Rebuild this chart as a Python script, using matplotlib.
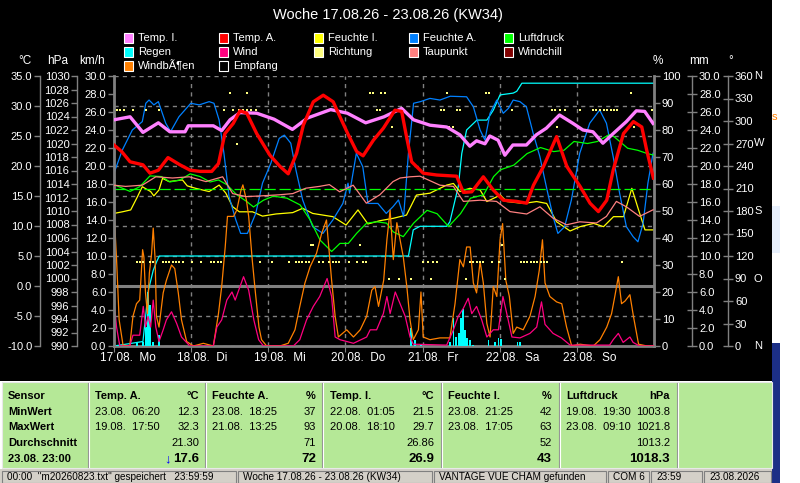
import numpy as np
import matplotlib
matplotlib.use('Agg')
import matplotlib.pyplot as plt
import matplotlib.transforms as mtransforms
from matplotlib.patches import Rectangle
from matplotlib.lines import Line2D
from matplotlib.ticker import FormatStrFormatter

plt.rcParams['font.family'] = ['Liberation Sans', 'DejaVu Sans']

# ---- data (hours since 17.08. 00:00) ----
days = ['17.08.  Mo', '18.08.  Di', '19.08.  Mi', '20.08.  Do', '21.08.  Fr', '22.08.  Sa', '23.08.  So']

temp_a_h = [0, 2.4, 5, 9, 11.2, 13.8, 16.8, 20.5, 23.7, 26.8, 30.4, 32.5, 34.5, 37.1, 39.2,
            41.3, 44.4, 48.5, 51.7, 54.2, 56.8, 58.9, 62.0, 65.1, 68.2, 70.3, 72.9, 75.5, 77.5,
            80.7, 83.8, 87.4, 89.5, 91.0, 92.6, 96.2, 100.4, 106.6, 108.7, 111.3, 114.9, 118.0,
            121.1, 125.3, 128.4, 130.5, 133.6, 137.7, 140.9, 145.0, 148.1, 150.7, 153.3, 155.3,
            158.5, 161.6, 164.2, 165.7, 167.8]
temp_a = [23.5, 22.4, 20.7, 20.2, 18.8, 19.3, 21.4, 20.2, 19.3, 19.1, 19.1, 20.4, 25.4, 27.1, 29.2,
          28.8, 25.4, 21.8, 19.9, 18.7, 22.1, 26.8, 30.7, 31.8, 30.7, 28.2, 25.2, 22.4, 21.7,
          24.3, 26.3, 29.3, 29.1, 24.9, 20.7, 18.8, 18.5, 18.3, 15.6, 15.7, 18.2, 16.0,
          14.3, 14.1, 13.8, 16.8, 19.9, 24.9, 19.9, 16.6, 13.8, 12.4, 14.3, 19.3,
          25.4, 27.4, 26.5, 22.7, 18.0]

temp_i_h = [0, 5, 9, 13.8, 17.4, 22.1, 23.1, 30.9, 33.5, 36.1, 39.2, 44.4, 49.8, 55.5, 60.2,
            67.4, 72.6, 78.3, 84.0, 89.5, 93.2, 98.3, 103.5, 107.6, 110.7, 112.8, 115.4, 116.9,
            119.5, 121.6, 124.1, 128.3, 131.4, 134.5, 138.6, 142.8, 145.9, 149.0, 152.1, 155.3,
            159.4, 162.5, 165.1, 167.7]
temp_i = [27.7, 28.2, 25.6, 27.2, 25.7, 25.7, 26.7, 26.7, 25.9, 27.7, 28.9, 28.8, 27.8, 26.1, 28.0,
          29.4, 28.8, 27.2, 28.2, 29.6, 27.7, 26.8, 26.5, 25.2, 23.3, 24.2, 23.7, 25.0,
          24.3, 21.8, 23.5, 23.5, 25.2, 26.3, 28.5, 27.1, 26.0, 25.7, 23.8, 25.4,
          27.4, 29.2, 29.1, 27.1]

hum_a_h = [0, 2.6, 5.7, 8.8, 9.9, 10.9, 12.4, 13.8, 16.1, 17.6, 20.2, 23.9, 26.5, 29.6, 31.1,
           32.7, 34.2, 35.8, 37.9, 39.4, 41.5, 44.1, 46.2, 48.8, 51.4, 53.0, 55.0, 56.6, 58.7,
           61.8, 65.0, 68.1, 71.2, 72.8, 73.3, 75.4, 77.4, 79.0, 82.1, 84.7, 86.8, 88.5, 90.1,
           91.6, 93.2, 95.3, 98.3, 101.4, 104.6, 109.7, 111.8, 113.9, 115.4, 117.0, 119.1, 121.1,
           122.7, 124.2, 126.3, 128.3, 130.4, 132.5, 134.5, 136.6, 138.1, 140.2, 142.3, 144.9,
           148.0, 151.1, 153.2, 155.3, 157.3, 159.4, 161.5, 163.0, 164.6, 166.1, 167.7]
hum_a = [64.0, 72.6, 80.0, 83.1, 89.9, 91.1, 89.3, 90.5, 82.5, 79.4, 84.9, 89.9, 89.3, 90.5, 89.9,
         83.7, 71.4, 55.3, 46.7, 41.7, 41.7, 49.1, 60.3, 67.7, 76.9, 78.1, 75.1, 65.2, 54.1,
         44.2, 41.7, 46.7, 52.8, 60.3, 56.6, 71.4, 66.4, 52.8, 52.8, 49.1, 51.6, 54.1, 47.9,
         71.4, 89.9, 90.5, 91.7, 91.1, 92.5, 92.3, 88.6, 80.0, 76.3, 86.2, 91.1, 86.2,
         88.0, 91.1, 90.5, 88.6, 78.8, 70.1, 59.0, 47.9, 41.7, 44.2, 54.1, 71.4,
         82.5, 87.4, 82.5, 70.1, 56.6, 44.2, 40.5, 38.6, 45.4, 60.3, 71.4]

hum_i_h = [0, 2.6, 5.2, 7.3, 8.8, 11.4, 12.4, 14.0, 15.1, 17.1, 21.3, 22.8, 25.4, 29.6, 32.7,
           34.8, 36.9, 39.0, 43.1, 46.2, 50.4, 55.6, 58.7, 61.8, 68.1, 72.2, 75.9, 79.0, 82.7,
           86.9, 91.0, 94.1, 98.3, 103.5, 105.6, 107.6, 110.7, 113.9, 116.0, 120.2, 122.2, 127.4,
           131.5, 134.6, 137.7, 141.9, 145.0, 149.2, 152.3, 155.4, 158.5, 161.1, 163.2, 165.2, 167.7]
hum_i = [49.1, 49.7, 50.4, 55.3, 59.0, 57.2, 55.6, 57.8, 62.1, 60.9, 61.5, 59.3, 58.4, 57.2, 59.6,
         56.6, 51.6, 49.7, 49.7, 48.1, 48.9, 49.4, 51.0, 49.1, 47.9, 44.8, 50.4, 45.2, 46.4,
         47.3, 48.5, 55.9, 56.6, 59.6, 60.2, 57.2, 58.4, 57.8, 53.5, 55.9, 53.5, 52.8,
         53.5, 52.8, 46.0, 42.6, 44.2, 45.4, 44.2, 47.9, 47.9, 58.4, 50.4, 43.0, 43.0]

press_h = [0, 5, 8, 11.2, 14.8, 17.4, 20.5, 23.7, 26.8, 29.9, 32.5, 35.1, 38.2, 41.3, 43.4,
           46.5, 49.6, 53.8, 57.9, 61.0, 64.1, 67.7, 70.3, 72.9, 75.5, 78.6, 81.7, 84.8, 86.9,
           90.0, 93.2, 97.4, 100.5, 104.1, 107.8, 110.9, 115.0, 118.1, 120.2, 124.4, 128.5,
           132.7, 136.8, 140.0, 143.1, 147.3, 150.4, 154.0, 155.6, 159.8, 162.9, 166.0, 167.7]
press = [1013.9, 1012.9, 1013.6, 1015.2, 1015.1, 1014.3, 1014.6, 1015.5, 1015.1, 1014.3, 1014.6,
         1013.9, 1012.4, 1011.4, 1010.6, 1011.6, 1012.2, 1011.9, 1010.9, 1008.7, 1005.7, 1004.0,
         1005.2, 1005.2, 1006.7, 1008.2, 1008.4, 1008.2, 1006.9, 1006.2, 1008.2, 1010.1, 1009.6,
         1007.7, 1009.6, 1011.9, 1012.4, 1015.1, 1016.1, 1016.8, 1018.5, 1019.4, 1018.8, 1019.0,
         1020.3, 1020.0, 1020.3, 1021.3, 1021.0, 1019.3, 1019.0, 1018.5, 1018.3]
press_mean = 1013.2

dew_h = [0, 3.6, 8.8, 13, 18.2, 23.4, 28.6, 33.8, 36.9, 41.1, 45.2, 51.4, 55.6, 59.7, 63.9,
         67.0, 70.2, 74.4, 78.5, 82.7, 86.8, 89.0, 92.1, 95.2, 101.4, 105.6, 108.7, 113.9,
         119.0, 123.2, 128.4, 132.5, 136.6, 140.8, 144.9, 150.1, 153.2, 156.3, 159.4, 163.5, 167.7]
dew = [16.8, 16.6, 16.8, 18.2, 18.0, 18.2, 17.4, 18.2, 15.4, 14.9, 15.0, 15.2, 15.4, 16.3, 16.6,
       16.9, 15.7, 16.8, 13.8, 15.2, 17.4, 18.0, 18.2, 18.3, 16.8, 16.6, 14.1, 14.3,
       14.1, 12.4, 12.0, 13.2, 11.3, 10.2, 10.7, 10.5, 11.6, 14.1, 13.2, 11.6, 12.7]

rain_h = [0, 5.5, 9.0, 10.7, 12.2, 13.3, 14.1, 91.6, 93.1, 95.2, 103.5, 104.5, 107.1, 108.2,
          109.7, 112.9, 116.0, 118.0, 120.1, 124.2, 125.3, 126.9, 167.8]
rain_sum = [0, 0.3, 0.5, 6.2, 8.4, 9.4, 10.0, 10.0, 12.9, 13.3, 13.3, 13.8, 17.7, 21.4,
            24.0, 25.1, 25.1, 26.2, 27.9, 28.1, 28.3, 29.2, 29.2]
rain_bar_h = [7.1, 9.0, 10.0, 10.5, 11.2, 12.2, 14.0, 92.3, 93.7, 95.4, 104.5, 105.6, 106.4,
              107.4, 107.9, 108.5, 109.2, 109.9, 110.8, 111.8, 116.5, 118.5, 119.6, 120.3,
              125.5, 126.3]
rain_bar = [0.3, 0.5, 2.1, 6.0, 4.6, 0.5, 1.2, 2.0, 0.7, 0.2, 0.5, 3.1, 1.0, 1.4, 3.1, 4.1,
            1.8, 0.9, 0.7, 0.1, 0.7, 0.5, 0.9, 0.8, 0.5, 0.5]

gust_h = [0.1, 0.8, 1.6, 2.8, 4.9, 5.9, 7.0, 8.0, 8.9, 9.3,
          9.8, 10.4, 11.0, 11.7, 12.2, 12.8, 13.2, 14.0, 15.3, 16.3,
          17.9, 18.9, 20.0, 21.0, 22.6, 24.7, 27.8, 30.9, 32.5, 33.5,
          34.6, 35.3, 37.2, 38.2, 39.5, 40.1, 41.2, 41.9, 43.0, 44.0,
          45.1, 45.9, 47.5, 51.6, 54.2, 56.3, 57.8, 59.4, 61.0, 63.0,
          64.6, 66.1, 67.7, 68.8, 69.8, 72.4, 74.5, 76.6, 78.6, 80.2,
          81.2, 82.3, 83.9, 84.9, 85.9, 86.9, 88.0, 89.0, 90.0, 91.1,
          92.1, 93.1, 94.7, 95.5, 96.2, 98.3, 101.4, 104.5, 106.1, 107.6,
          108.7, 109.7, 110.8, 111.8, 112.8, 113.9, 114.9, 116.0, 117.0, 118.0,
          119.1, 120.1, 120.9, 121.9, 123.0, 124.2, 125.3, 127.3, 129.4, 131.0,
          132.3, 133.3, 134.1, 135.6, 137.7, 139.3, 140.8, 142.4, 145.0, 149.1,
          151.2, 153.3, 154.8, 155.8, 156.9, 157.9, 159.0, 160.5, 161.6, 163.2,
          165.8, 168.0]
gust = [14.4, 9.6, 2.9, 0.1, 0.0, 3.3, 4.7, 5.1, 10.7, 9.9,
        5.9, 3.6, 8.1, 10.3, 13.1, 9.6, 3.3, 2.1, 5.9, 7.3,
        9.0, 8.6, 5.9, 2.9, 0.5, 0.0, 0.3, 0.0, 3.6, 6.6,
        11.0, 14.4, 14.4, 15.1, 17.3, 17.9, 16.2, 14.4, 9.6, 5.9,
        2.1, 0.7, 0.0, 0.0, 0.3, 1.8, 4.4, 7.0, 8.8, 10.3,
        12.5, 14.0, 7.3, 3.3, 1.0, 1.8, 1.0, 1.8, 3.3, 6.2,
        6.6, 4.4, 7.3, 11.8, 15.1, 9.6, 13.7, 11.8, 9.9, 6.6,
        2.9, 0.7, 1.8, 6.0, 1.0, 0.7, 0.9, 0.9, 4.7, 9.6,
        8.8, 11.0, 11.0, 7.0, 5.9, 9.4, 7.0, 2.5, 1.0, 6.6,
        5.5, 11.8, 13.6, 7.3, 5.5, 1.4, 2.1, 1.8, 3.3, 5.5,
        8.4, 11.8, 7.0, 5.5, 4.9, 4.7, 2.1, 0.0, 0.2, 0.0,
        0.7, 2.1, 3.6, 5.5, 7.7, 4.7, 5.0, 5.7, 3.3, 0.2,
        0.0, 0.0]

wind_h = [0.1, 0.8, 1.8, 4.9, 5.9, 8.0, 9.1, 9.8, 10.6, 11.4,
          12.2, 13.0, 14.0, 15.3, 16.3, 17.9, 19.5, 21.0, 23.6, 30.9,
          32.0, 33.5, 35.1, 36.7, 37.7, 40.3, 41.9, 43.5, 45.0, 46.5,
          55.8, 57.8, 59.9, 62.0, 64.0, 66.3, 67.7, 68.8, 70.3, 74.5,
          78.6, 79.7, 81.7, 83.8, 84.9, 85.9, 87.5, 89.0, 90.6, 92.1,
          93.1, 103.5, 105.6, 107.1, 108.7, 110.2, 111.3, 112.8, 114.4, 116.0,
          118.0, 119.6, 121.0, 122.2, 123.8, 126.3, 129.4, 131.5, 133.0, 134.1,
          136.6, 139.2, 141.9, 154.2, 155.3, 156.9, 158.4, 160.5, 161.5, 163.5,
          168.0]
wind = [4.6, 2.1, 0.0, 0.0, 1.2, 1.2, 4.4, 2.1, 3.3, 2.1,
        5.1, 2.1, 0.5, 1.8, 2.9, 3.8, 2.5, 1.0, 0.0, 0.0,
        2.1, 2.9, 5.1, 6.0, 5.1, 7.7, 6.2, 2.9, 0.7, 0.0,
        0.0, 0.7, 2.9, 4.4, 5.5, 7.5, 5.5, 1.0, 0.7, 0.3,
        1.0, 1.8, 1.8, 3.6, 5.5, 3.6, 6.0, 4.7, 3.3, 1.0,
        0.2, 0.1, 1.8, 3.3, 4.2, 5.3, 3.6, 4.4, 2.9, 1.0,
        1.8, 1.8, 5.5, 3.6, 1.0, 0.9, 1.4, 2.1, 4.9, 2.4,
        1.4, 0.9, 0.1, 0.1, 0.7, 1.4, 0.4, 1.0, 0.4, 0.0,
        0.0]

dir_sectors = [315.0, 337.5, 292.5, 270.0, 135.0, 112.5, 90.0]
dir_hours = [
    [0.8, 1.9, 3.1, 5.8, 10.1, 14.0, 34.2, 37.1, 39.0, 40.0, 41.3, 42.5, 44.2, 81.7, 82.8,
     101.6, 102.7, 106.6, 107.7, 123.7, 136.2, 137.3, 138.8, 140.3, 145.0, 148.9, 150.0,
     151.2, 152.5, 153.5, 154.5, 155.6, 156.6, 167.5],
    [36.1, 41.3, 79.5, 80.7, 83.1, 84.3, 103.5, 115.7, 116.8, 160.8],
    [43.4, 86.4, 104.3, 105.6, 137.7, 161.8],
    [38.2],
    [61.2, 62.0, 76.5, 120.7],
    [7.1, 8.1, 8.9, 11.2, 12.2, 15.1, 16.2, 17.2, 18.3, 19.3, 20.3, 21.6, 24.2, 27.1, 30.2,
     31.2, 32.3, 33.3, 45.4, 49.3, 54.4, 56.5, 57.6, 58.6, 59.6, 60.7, 63.9, 64.9, 67.0,
     68.0, 69.1, 70.1, 73.2, 75.5, 77.6, 78.3, 96.2, 97.8, 99.3, 100.4, 110.8, 111.8, 112.8,
     113.9, 114.9, 117.5, 119.9, 126.5, 127.6, 128.6, 129.6, 130.7, 131.7, 132.7, 133.8,
     134.8, 158.0],
    [85.7, 88.7, 92.4, 98.6, 109.4, 121.7],
]
dir_letters = {360: 'N', 270: 'W', 180: 'S', 90: 'O', 0: 'N'}

legend_rows = [
    [('Temp. I.', '#ff80ff'), ('Temp. A.', '#ff0000'), ('Feuchte I.', '#ffff00'),
     ('Feuchte A.', '#0080ff'), ('Luftdruck', '#00ff00')],
    [('Regen', '#00ffff'), ('Wind', '#ff0080'), ('Richtung', '#ffff80'),
     ('Taupunkt', '#ff8080'), ('Windchill', '#800000')],
    [('WindbÃ¶en', '#ff8000'), ('Empfang', '#000000')],
]

row_labels = ['Sensor', 'MinWert', 'MaxWert', 'Durchschnitt', '23.08. 23:00']
sensor_names = ['Temp. A.', 'Feuchte A.', 'Temp. I.', 'Feuchte I.', 'Luftdruck']
sensor_units = ['°C', '%', '°C', '%', 'hPa']
min_times = ['23.08.  06:20', '23.08.  18:25', '22.08.  01:05', '23.08.  21:25', '19.08.  19:30']
min_vals = ['12.3', '37', '21.5', '42', '1003.8']
max_times = ['19.08.  17:50', '21.08.  13:25', '20.08.  18:10', '23.08.  17:05', '23.08.  09:10']
max_vals = ['32.3', '93', '29.7', '63', '1021.8']
avg_vals = ['21.30', '71', '26.86', '52', '1013.2']
cur_vals = ['17.6', '72', '26.9', '43', '1018.3']

status_texts = ['00:00  "m20260823.txt" gespeichert   23:59:59', 'Woche 17.08.26 - 23.08.26 (KW34)',
                'VANTAGE VUE CHAM gefunden', 'COM 6', '23:59', '23.08.2026']

# ---- layout helpers (pixel -> figure fraction) ----
W, H = 800, 483
def fx(px):
    return px / W
def fy(py):
    return 1 - py / H

GRAY = '#808080'
THIN = 0.9

fig = plt.figure(figsize=(8, 4.83), dpi=100)
fig.patch.set_facecolor('white')
fig.add_artist(Rectangle((0, fy(381)), fx(772), 381 / H, transform=fig.transFigure,
                         facecolor='black', edgecolor='none', zorder=-5))

base = fig.add_axes([fx(114), fy(346), fx(654) - fx(114), (346 - 76) / H])
base.set_facecolor('black')
base.set_xlim(0, 168)


def style_y(a, side, offset_px, lim, step, fmt, border=False, direction='out', length=4):
    a.set_ylim(*lim)
    a.set_yticks(np.arange(lim[0], lim[1] + step / 2, step))
    a.yaxis.set_major_formatter(FormatStrFormatter(fmt))
    for s in a.spines.values():
        s.set_visible(False)
    sp = a.spines[side]
    sp.set_visible(True)
    sp.set_position(('outward', offset_px * 0.72))
    sp.set_color(GRAY)
    sp.set_linewidth(2 if border else 1)
    if side == 'left':
        a.yaxis.tick_left()
    else:
        a.yaxis.tick_right()
    a.tick_params(axis='y', colors=GRAY, labelcolor='white', labelsize=8,
                  length=length, width=1, pad=1.5, direction=direction)


# °C axis carries the grid
style_y(base, 'left', 74, (-10, 35), 5, '%.1f')
base.spines['bottom'].set_visible(True)
base.spines['bottom'].set_color(GRAY)
base.spines['bottom'].set_linewidth(2)
base.set_xticks(np.arange(0, 168, 24))
base.tick_params(axis='x', colors=GRAY, length=4, labelbottom=False)
base.grid(True, color=GRAY, linestyle=(0, (3, 3)), linewidth=1)
base.axhline(0, color=GRAY, linewidth=2.2)

# rain (mm)
ax_r = base.twinx()
style_y(ax_r, 'right', 38, (0, 30), 2, '%.1f', direction='inout', length=7)
ax_r.bar(rain_bar_h, rain_bar, width=0.55, color='#00ffff', linewidth=0)
ax_r.plot(rain_h, rain_sum, color='#00ffff', lw=THIN)

# humidity (%)
ax_h = base.twinx()
style_y(ax_h, 'right', 0, (0, 100), 10, '%d', border=True)
ax_h.plot(hum_i_h, hum_i, color='#ffff00', lw=THIN)
ax_h.plot(hum_a_h, hum_a, color='#0080ff', lw=THIN)

# pressure (hPa)
ax_p = base.twinx()
style_y(ax_p, 'left', 37, (990, 1030), 2, '%d')
ax_p.axhline(press_mean, color='#00ff00', lw=THIN, dashes=(9, 3))
ax_p.plot(press_h, press, color='#00ff00', lw=THIN)

# wind (km/h)
ax_k = base.twinx()
style_y(ax_k, 'left', 0, (0, 30), 2, '%.1f', border=True)
ax_k.plot(gust_h, gust, color='#ff8000', lw=THIN)
ax_k.plot(wind_h, wind, color='#ff0080', lw=THIN)

# direction (°)
ax_d = base.twinx()
style_y(ax_d, 'right', 74, (0, 360), 30, '%d', direction='inout', length=7)
for deg, hrs in zip(dir_sectors, dir_hours):
    ax_d.plot(hrs, [deg] * len(hrs), ls='none', marker='s', ms=1.7, mew=0, color='#ffff80')
dtrans = mtransforms.blended_transform_factory(fig.transFigure, ax_d.transData)
for deg, letter in dir_letters.items():
    ax_d.text(fx(754), deg, letter, transform=dtrans, color='white', fontsize=8,
              va='center', ha='left', clip_on=False)

# temperatures on top (°C)
ax_t = base.twinx()
ax_t.set_ylim(-10, 35)
ax_t.yaxis.set_visible(False)
for s in ax_t.spines.values():
    s.set_visible(False)
ax_t.plot(dew_h, dew, color='#ff8080', lw=THIN)
ax_t.plot(temp_i_h, temp_i, color='#ff80ff', lw=2.4)
ax_t.plot(temp_a_h, temp_a, color='#ff0000', lw=2.4)

# day labels
dlab = mtransforms.blended_transform_factory(base.transData, base.transAxes)
for i, d in enumerate(days):
    base.text(i * 24 - 4.4, -0.045, d, transform=dlab, color='white', fontsize=8.5,
              ha='left', va='center')

# units and title
for px, u in [(25, '°C'), (58, 'hPa'), (92, 'km/h'), (658, '%'), (699, 'mm'), (731, '°')]:
    fig.text(fx(px), fy(61), u, color='white', fontsize=8.5, ha='center', va='center')
fig.text(fx(388), fy(15), 'Woche 17.08.26 - 23.08.26 (KW34)', color='white', fontsize=10.5,
         ha='center', va='center')

# legend
col_x = [124, 219, 314, 409, 504]
row_y = [38, 52, 66]
for r, row in enumerate(legend_rows):
    for c, (name, colr) in enumerate(row):
        fig.add_artist(Rectangle((fx(col_x[c]), fy(row_y[r] + 4.5)), 9 / W, 9 / H,
                                 transform=fig.transFigure, facecolor=colr,
                                 edgecolor='white', linewidth=0.8))
        fig.text(fx(col_x[c] + 14), fy(row_y[r]), name, color='white', fontsize=8,
                 ha='left', va='center')

# right-hand window remains
fig.add_artist(Rectangle((fx(772), fy(253)), 8 / W, 47 / H, transform=fig.transFigure,
                         facecolor='#e8f0fc', edgecolor='none'))
fig.add_artist(Rectangle((fx(772), fy(483)), 8 / W, 140 / H, transform=fig.transFigure,
                         facecolor='#1c2f86', edgecolor='none'))
fig.text(fx(772), fy(117), 's', color='#ff8000', fontsize=8, ha='left', va='center')

# statistics panel
fig.add_artist(Rectangle((fx(2), fy(468)), 770 / W, 86 / H, transform=fig.transFigure,
                         facecolor='#b5e897', edgecolor='#e8e8e8', linewidth=0.8))
for sx in [88, 204.5, 322, 441, 559, 677]:
    fig.add_artist(Line2D([fx(sx), fx(sx)], [fy(383), fy(467)], transform=fig.transFigure,
                          color='#909090', lw=0.8))
    fig.add_artist(Line2D([fx(sx + 1), fx(sx + 1)], [fy(383), fy(467)], transform=fig.transFigure,
                          color='white', lw=0.8))
rows_y = [396, 412, 427, 443, 459]
for lab, yy in zip(row_labels, rows_y):
    fig.text(fx(8), fy(yy), lab, fontsize=8, fontweight='bold', ha='left', va='center')
left_x = [95, 212, 330, 448, 566]
right_x = [199, 316, 434, 552, 670]
for i in range(5):
    lx, rx = fx(left_x[i]), fx(right_x[i])
    fig.text(lx, fy(rows_y[0]), sensor_names[i], fontsize=8, fontweight='bold', va='center')
    fig.text(rx, fy(rows_y[0]), sensor_units[i], fontsize=8, fontweight='bold', ha='right', va='center')
    fig.text(lx, fy(rows_y[1]), min_times[i], fontsize=8, va='center')
    fig.text(rx, fy(rows_y[1]), min_vals[i], fontsize=8, ha='right', va='center')
    fig.text(lx, fy(rows_y[2]), max_times[i], fontsize=8, va='center')
    fig.text(rx, fy(rows_y[2]), max_vals[i], fontsize=8, ha='right', va='center')
    fig.text(rx, fy(rows_y[3]), avg_vals[i], fontsize=8, ha='right', va='center')
    fig.text(rx, fy(rows_y[4]), cur_vals[i], fontsize=9.5, fontweight='bold', ha='right', va='center')
fig.text(fx(168), fy(rows_y[4]), '↓', fontsize=9.5, fontweight='bold', color='#0000ff',
         ha='center', va='center')

# status bar
fig.add_artist(Rectangle((0, 0), fx(772), 14 / H, transform=fig.transFigure,
                         facecolor='#d4d0c8', edgecolor='none'))
panels = [(2, 236), (238, 432), (434, 606), (608, 649), (651, 702), (704, 771)]
for (a, b), t in zip(panels, status_texts):
    fig.add_artist(Rectangle((fx(a), 0), (b - a) / W, 12 / H, transform=fig.transFigure,
                             facecolor='#d4d0c8', edgecolor='#808080', linewidth=0.8))
    fig.text(fx(a + 5), fy(477), t, fontsize=7.2, ha='left', va='center')

fig.savefig('out.png', dpi=100, facecolor=fig.get_facecolor())
